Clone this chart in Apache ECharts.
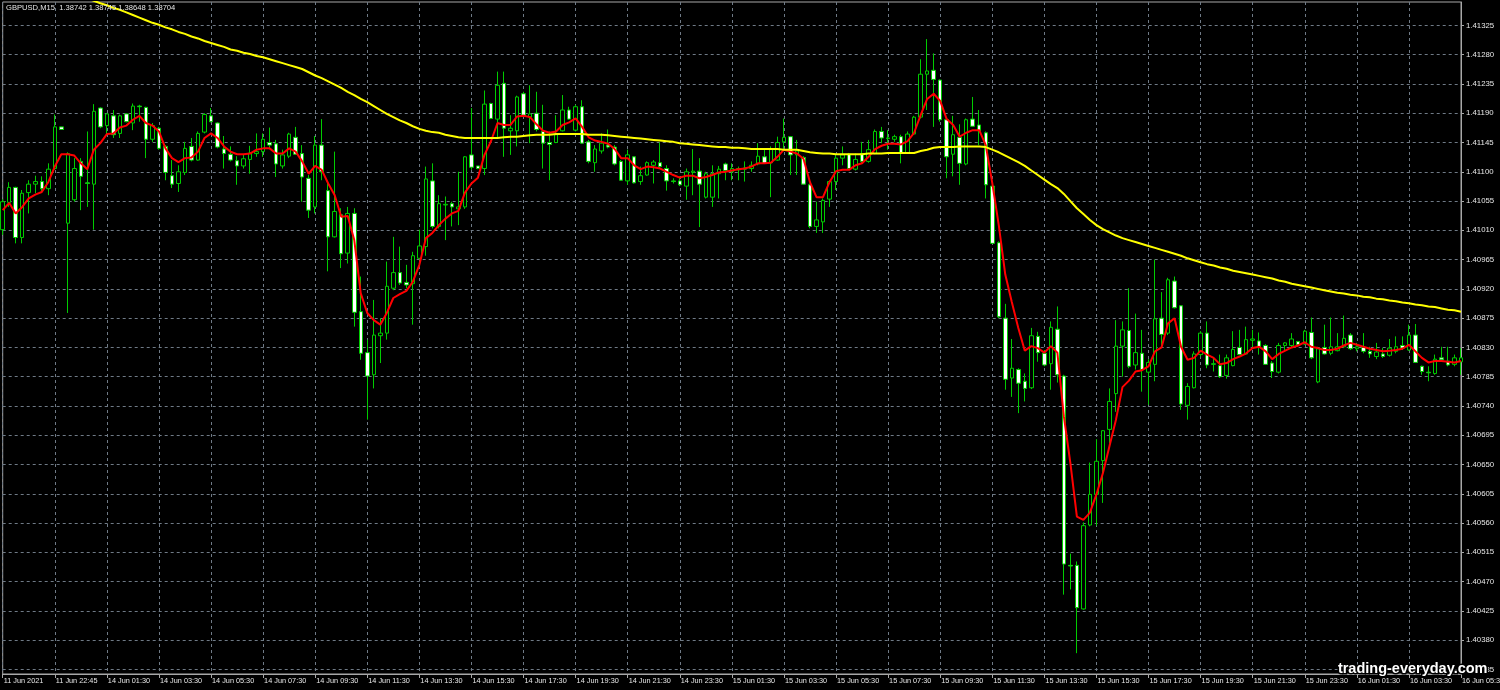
<!DOCTYPE html>
<html>
<head>
<meta charset="utf-8">
<script src="https://cdn.jsdelivr.net/npm/echarts@6/dist/echarts.min.js"></script>
<style>
html,body{margin:0;padding:0;background:#000;}
#chart{width:1500px;height:690px;}
</style>
</head>
<body>
<div id="chart"></div>
<script>
// GBPUSD M15 bars (open, high, low, close), one per 15 minutes
const opens = [1.41011,1.41053,1.41076,1.40999,1.41068,1.41081,1.41085,1.41074,1.41105,1.41169,1.41021,1.41057,1.41116,1.41083,1.41081,1.41198,1.41171,1.41186,1.41159,1.41189,1.41175,1.41201,1.41199,1.41150,1.41167,1.41139,1.41094,1.41082,1.41099,1.41139,1.41118,1.41161,1.41186,1.41175,1.41135,1.41127,1.41117,1.41109,1.41119,1.41128,1.41131,1.41145,1.41143,1.41109,1.41124,1.41153,1.41128,1.41090,1.41046,1.41141,1.41071,1.41000,1.41034,1.40975,1.41036,1.40885,1.40822,1.40788,1.40848,1.40852,1.40921,1.40945,1.40930,1.40928,1.40967,1.40985,1.41086,1.41016,1.41049,1.41051,1.41043,1.41046,1.41126,1.41109,1.41105,1.41205,1.41181,1.41236,1.41163,1.41163,1.41220,1.41184,1.41190,1.41162,1.41145,1.41145,1.41163,1.41195,1.41164,1.41200,1.41146,1.41114,1.41132,1.41141,1.41138,1.41116,1.41086,1.41123,1.41085,1.41095,1.41110,1.41114,1.41105,1.41086,1.41086,1.41078,1.41099,1.41101,1.41061,1.41061,1.41097,1.41112,1.41100,1.41103,1.41104,1.41105,1.41112,1.41123,1.41114,1.41118,1.41146,1.41154,1.41126,1.41122,1.41080,1.41016,1.41023,1.41058,1.41085,1.41121,1.41127,1.41104,1.41128,1.41116,1.41128,1.41162,1.41151,1.41150,1.41154,1.41129,1.41158,1.41184,1.41250,1.41256,1.41241,1.41180,1.41127,1.41153,1.41112,1.41181,1.41172,1.41160,1.41078,1.40991,1.40875,1.40783,1.40796,1.40778,1.40768,1.40847,1.40821,1.40805,1.40858,1.40786,1.40495,1.40495,1.40428,1.40557,1.40604,1.40656,1.40704,1.40759,1.40832,1.40856,1.40803,1.40821,1.40792,1.40804,1.40875,1.40852,1.40932,1.40894,1.40741,1.40768,1.40819,1.40852,1.40804,1.40802,1.40787,1.40802,1.40830,1.40820,1.40841,1.40840,1.40833,1.40806,1.40792,1.40833,1.40833,1.40839,1.40835,1.40853,1.40777,1.40830,1.40821,1.40825,1.40831,1.40849,1.40828,1.40830,1.40824,1.40816,1.40820,1.40818,1.40824,1.40833,1.40826,1.40849,1.40801,1.40792,1.40790,1.40814,1.40809,1.40804,1.40808];
const highs = [1.41058,1.41084,1.41077,1.41072,1.41087,1.41094,1.41093,1.41113,1.41188,1.41169,1.41130,1.41121,1.41121,1.41162,1.41204,1.41199,1.41190,1.41195,1.41188,1.41190,1.41205,1.41203,1.41200,1.41175,1.41169,1.41141,1.41118,1.41110,1.41146,1.41152,1.41162,1.41190,1.41198,1.41176,1.41155,1.41139,1.41124,1.41126,1.41140,1.41159,1.41159,1.41168,1.41149,1.41134,1.41160,1.41169,1.41141,1.41095,1.41155,1.41181,1.41085,1.41131,1.41044,1.41046,1.41044,1.40939,1.40842,1.40903,1.40875,1.40962,1.41000,1.40985,1.40957,1.40977,1.41011,1.41108,1.41113,1.41064,1.41062,1.41054,1.41100,1.41124,1.41198,1.41109,1.41225,1.41206,1.41254,1.41254,1.41187,1.41217,1.41223,1.41233,1.41223,1.41203,1.41162,1.41187,1.41218,1.41200,1.41203,1.41210,1.41149,1.41141,1.41159,1.41165,1.41141,1.41118,1.41134,1.41124,1.41108,1.41116,1.41118,1.41145,1.41110,1.41090,1.41093,1.41105,1.41135,1.41121,1.41100,1.41110,1.41109,1.41114,1.41113,1.41108,1.41116,1.41116,1.41144,1.41134,1.41139,1.41154,1.41182,1.41155,1.41149,1.41124,1.41082,1.41054,1.41059,1.41087,1.41127,1.41139,1.41129,1.41128,1.41146,1.41149,1.41165,1.41169,1.41164,1.41157,1.41157,1.41162,1.41186,1.41273,1.41304,1.41282,1.41242,1.41182,1.41186,1.41173,1.41182,1.41215,1.41195,1.41162,1.41080,1.40993,1.40897,1.40843,1.40798,1.40790,1.40860,1.40854,1.40826,1.40870,1.40893,1.40788,1.40513,1.40501,1.40561,1.40653,1.40689,1.40703,1.40767,1.40872,1.40870,1.40921,1.40882,1.40857,1.40812,1.40965,1.40915,1.40937,1.40939,1.40895,1.40775,1.40824,1.40855,1.40870,1.40814,1.40819,1.40819,1.40855,1.40857,1.40862,1.40857,1.40853,1.40835,1.40809,1.40837,1.40838,1.40852,1.40840,1.40857,1.40876,1.40831,1.40865,1.40876,1.40852,1.40879,1.40852,1.40837,1.40852,1.40831,1.40837,1.40829,1.40843,1.40847,1.40847,1.40865,1.40866,1.40802,1.40801,1.40819,1.40831,1.40831,1.40819,1.40829];
const lows = [1.41003,1.41046,1.40990,1.40990,1.41036,1.41067,1.41069,1.41064,1.41103,1.41165,1.40883,1.41054,1.41041,1.41046,1.41011,1.41167,1.41157,1.41152,1.41152,1.41176,1.41164,1.41177,1.41121,1.41146,1.41134,1.41087,1.41075,1.41069,1.41095,1.41116,1.41117,1.41159,1.41176,1.41136,1.41105,1.41116,1.41080,1.41105,1.41097,1.41123,1.41123,1.41136,1.41092,1.41105,1.41121,1.41126,1.41054,1.41029,1.41036,1.41087,1.40947,1.40999,1.40952,1.40959,1.40862,1.40811,1.40719,1.40767,1.40806,1.40842,1.40918,1.40926,1.40921,1.40865,1.40965,1.40971,1.41013,1.41013,1.40995,1.41016,1.41018,1.41043,1.41103,1.41104,1.41095,1.41181,1.41152,1.41123,1.41126,1.41139,1.41185,1.41144,1.41162,1.41105,1.41087,1.41144,1.41162,1.41180,1.41162,1.41143,1.41113,1.41100,1.41128,1.41136,1.41110,1.41086,1.41080,1.41082,1.41080,1.41094,1.41082,1.41105,1.41071,1.41082,1.41078,1.41057,1.41064,1.41015,1.41059,1.41046,1.41059,1.41087,1.41087,1.41087,1.41085,1.41100,1.41110,1.41112,1.41061,1.41117,1.41134,1.41095,1.41095,1.41080,1.41013,1.41006,1.41006,1.41046,1.41072,1.41110,1.41104,1.41102,1.41113,1.41114,1.41127,1.41144,1.41134,1.41146,1.41113,1.41128,1.41157,1.41182,1.41195,1.41169,1.41177,1.41090,1.41093,1.41080,1.41110,1.41169,1.41141,1.41059,1.40989,1.40875,1.40765,1.40754,1.40729,1.40747,1.40766,1.40808,1.40801,1.40765,1.40776,1.40450,1.40458,1.40360,1.40427,1.40555,1.40556,1.40591,1.40683,1.40731,1.40785,1.40798,1.40796,1.40762,1.40742,1.40778,1.40831,1.40849,1.40890,1.40734,1.40719,1.40767,1.40816,1.40798,1.40793,1.40783,1.40782,1.40801,1.40818,1.40819,1.40831,1.40819,1.40803,1.40783,1.40790,1.40826,1.40829,1.40831,1.40834,1.40812,1.40775,1.40819,1.40818,1.40824,1.40829,1.40826,1.40824,1.40821,1.40814,1.40812,1.40814,1.40816,1.40821,1.40826,1.40825,1.40806,1.40788,1.40778,1.40788,1.40809,1.40801,1.40801,1.40788];
const closes = [1.41054,1.41076,1.40999,1.41067,1.41081,1.41085,1.41074,1.41104,1.41169,1.41165,1.41128,1.41105,1.41093,1.41082,1.41193,1.41169,1.41189,1.41157,1.41186,1.41177,1.41201,1.41200,1.41150,1.41171,1.41136,1.41099,1.41081,1.41100,1.41136,1.41118,1.41159,1.41188,1.41177,1.41138,1.41128,1.41118,1.41109,1.41120,1.41129,1.41131,1.41150,1.41141,1.41112,1.41126,1.41158,1.41127,1.41092,1.41041,1.41141,1.41100,1.41000,1.41039,1.40974,1.41036,1.40884,1.40821,1.40786,1.40849,1.40852,1.40924,1.40945,1.40929,1.40926,1.40971,1.40986,1.41089,1.41016,1.41051,1.41050,1.41046,1.41046,1.41123,1.41107,1.41105,1.41204,1.41182,1.41233,1.41167,1.41167,1.41215,1.41187,1.41189,1.41165,1.41144,1.41142,1.41157,1.41195,1.41181,1.41200,1.41144,1.41116,1.41135,1.41144,1.41138,1.41112,1.41087,1.41126,1.41083,1.41094,1.41114,1.41115,1.41108,1.41086,1.41085,1.41080,1.41100,1.41101,1.41081,1.41097,1.41097,1.41104,1.41102,1.41105,1.41105,1.41106,1.41110,1.41124,1.41113,1.41135,1.41145,1.41153,1.41126,1.41132,1.41081,1.41016,1.41026,1.41056,1.41085,1.41121,1.41126,1.41105,1.41119,1.41116,1.41134,1.41162,1.41152,1.41152,1.41154,1.41129,1.41158,1.41184,1.41250,1.41255,1.41242,1.41180,1.41123,1.41157,1.41113,1.41180,1.41170,1.41163,1.41080,1.40990,1.40877,1.40781,1.40798,1.40775,1.40767,1.40848,1.40822,1.40803,1.40861,1.40788,1.40497,1.40494,1.40430,1.40556,1.40604,1.40655,1.40702,1.40747,1.40832,1.40857,1.40801,1.40822,1.40796,1.40807,1.40874,1.40850,1.40934,1.40891,1.40743,1.40770,1.40820,1.40852,1.40803,1.40805,1.40785,1.40814,1.40827,1.40819,1.40842,1.40843,1.40831,1.40804,1.40793,1.40833,1.40837,1.40843,1.40834,1.40855,1.40814,1.40828,1.40820,1.40831,1.40831,1.40844,1.40828,1.40831,1.40824,1.40820,1.40823,1.40816,1.40829,1.40831,1.40829,1.40849,1.40807,1.40793,1.40791,1.40812,1.40811,1.40803,1.40814,1.40814];
// Fast moving average (red)
const fastMA = [1.41041,1.41052,1.41036,1.41046,1.41059,1.41065,1.41069,1.41084,1.41108,1.41127,1.41127,1.41125,1.41113,1.41104,1.41134,1.41144,1.41158,1.41159,1.41168,1.41171,1.41180,1.41186,1.41175,1.41171,1.41162,1.41136,1.41121,1.41115,1.41121,1.41122,1.41131,1.41152,1.41159,1.41152,1.41139,1.41131,1.41127,1.41127,1.41128,1.41134,1.41136,1.41136,1.41128,1.41128,1.41136,1.41131,1.41116,1.41097,1.41109,1.41103,1.41082,1.41064,1.41031,1.41032,1.40995,1.40913,1.40883,1.40872,1.40865,1.40883,1.40906,1.40912,1.40917,1.40931,1.40957,1.40998,1.41006,1.41018,1.41028,1.41036,1.41040,1.41068,1.41082,1.41091,1.41126,1.41147,1.41175,1.41172,1.41172,1.41185,1.41186,1.41184,1.41173,1.41163,1.41160,1.41162,1.41172,1.41176,1.41182,1.41169,1.41153,1.41148,1.41146,1.41143,1.41135,1.41121,1.41121,1.41110,1.41104,1.41108,1.41107,1.41105,1.41100,1.41095,1.41091,1.41094,1.41094,1.41090,1.41092,1.41095,1.41099,1.41100,1.41102,1.41104,1.41105,1.41108,1.41113,1.41113,1.41114,1.41123,1.41134,1.41131,1.41128,1.41120,1.41084,1.41061,1.41061,1.41084,1.41101,1.41103,1.41103,1.41110,1.41113,1.41123,1.41135,1.41140,1.41143,1.41143,1.41142,1.41147,1.41160,1.41187,1.41212,1.41220,1.41209,1.41181,1.41172,1.41154,1.41160,1.41164,1.41164,1.41141,1.41083,1.41018,1.40942,1.40900,1.40860,1.40825,1.40832,1.40829,1.40822,1.40832,1.40822,1.40724,1.40652,1.40570,1.40565,1.40576,1.40604,1.40637,1.40678,1.40719,1.40769,1.40779,1.40793,1.40795,1.40801,1.40824,1.40830,1.40867,1.40875,1.40831,1.40811,1.40814,1.40825,1.40819,1.40814,1.40804,1.40806,1.40812,1.40816,1.40821,1.40829,1.40831,1.40824,1.40812,1.40820,1.40825,1.40830,1.40833,1.40838,1.40831,1.40829,1.40826,1.40826,1.40828,1.40833,1.40837,1.40834,1.40831,1.40828,1.40826,1.40824,1.40825,1.40826,1.40828,1.40834,1.40824,1.40814,1.40807,1.40809,1.40809,1.40808,1.40807,1.40809];
// Slow moving average (yellow)
const slowMA = [1.41413,1.41410,1.41406,1.41402,1.41399,1.41395,1.41391,1.41388,1.41384,1.41381,1.41377,1.41374,1.41370,1.41366,1.41363,1.41359,1.41356,1.41352,1.41349,1.41345,1.41341,1.41337,1.41333,1.41329,1.41326,1.41322,1.41319,1.41315,1.41312,1.41308,1.41305,1.41301,1.41298,1.41295,1.41292,1.41288,1.41286,1.41283,1.41281,1.41278,1.41276,1.41273,1.41270,1.41267,1.41264,1.41261,1.41258,1.41253,1.41248,1.41244,1.41239,1.41234,1.41229,1.41223,1.41218,1.41212,1.41207,1.41201,1.41195,1.41189,1.41184,1.41179,1.41175,1.41170,1.41166,1.41163,1.41161,1.41160,1.41157,1.41155,1.41153,1.41152,1.41152,1.41152,1.41152,1.41152,1.41152,1.41153,1.41154,1.41154,1.41155,1.41156,1.41157,1.41157,1.41157,1.41158,1.41158,1.41158,1.41158,1.41158,1.41157,1.41157,1.41157,1.41156,1.41155,1.41154,1.41153,1.41152,1.41151,1.41150,1.41149,1.41148,1.41147,1.41146,1.41144,1.41143,1.41142,1.41141,1.41140,1.41139,1.41138,1.41138,1.41137,1.41137,1.41136,1.41135,1.41135,1.41135,1.41135,1.41135,1.41134,1.41134,1.41134,1.41132,1.41130,1.41129,1.41128,1.41128,1.41127,1.41127,1.41127,1.41127,1.41127,1.41128,1.41128,1.41128,1.41129,1.41129,1.41129,1.41129,1.41129,1.41132,1.41134,1.41137,1.41138,1.41138,1.41138,1.41139,1.41139,1.41139,1.41139,1.41138,1.41134,1.41130,1.41125,1.41120,1.41115,1.41109,1.41102,1.41095,1.41088,1.41081,1.41075,1.41066,1.41055,1.41044,1.41035,1.41026,1.41018,1.41012,1.41007,1.41002,1.40998,1.40995,1.40992,1.40989,1.40986,1.40983,1.40980,1.40977,1.40974,1.40971,1.40967,1.40964,1.40961,1.40958,1.40956,1.40953,1.40951,1.40948,1.40946,1.40944,1.40942,1.40940,1.40938,1.40936,1.40933,1.40931,1.40928,1.40926,1.40924,1.40922,1.40920,1.40918,1.40916,1.40914,1.40913,1.40911,1.40910,1.40908,1.40907,1.40905,1.40904,1.40902,1.40901,1.40899,1.40898,1.40896,1.40895,1.40893,1.40892,1.40890,1.40888,1.40887,1.40885];
// Price scale labels
const priceTicks = [1.40335,1.40380,1.40425,1.40470,1.40515,1.40560,1.40605,1.40650,1.40695,1.40740,1.40785,1.40830,1.40875,1.40920,1.40965,1.41010,1.41055,1.41100,1.41145,1.41190,1.41235,1.41280,1.41325];
// Time scale labels (one every 8 bars)
const timeLabels = ['11 Jun 2021','11 Jun 22:45','14 Jun 01:30','14 Jun 03:30','14 Jun 05:30','14 Jun 07:30','14 Jun 09:30','14 Jun 11:30','14 Jun 13:30','14 Jun 15:30','14 Jun 17:30','14 Jun 19:30','14 Jun 21:30','14 Jun 23:30','15 Jun 01:30','15 Jun 03:30','15 Jun 05:30','15 Jun 07:30','15 Jun 09:30','15 Jun 11:30','15 Jun 13:30','15 Jun 15:30','15 Jun 17:30','15 Jun 19:30','15 Jun 21:30','15 Jun 23:30','16 Jun 01:30','16 Jun 03:30','16 Jun 05:30'];
const headerText = 'GBPUSD,M15  1.38742 1.38745 1.38648 1.38704';
const watermark = 'trading-everyday.com';

const LABEL_STEP = 8;
const categories = opens.map((_, i) => String(i));
const candleData = opens.map((o, i) => [o, closes[i], lows[i], highs[i]]);
const uiFont = '"Liberation Sans", Arial, sans-serif';
const gridColor = '#6f7a86';
const frameColor = '#a8a8a8';
const textColor = '#e6e6e6';

const chart = echarts.init(document.getElementById('chart'), null, {renderer: 'canvas'});
chart.setOption({
  animation: false,
  backgroundColor: '#000000',
  grid: {left: 2.7, right: 39, top: 2, bottom: 16, show: true, borderColor: frameColor, borderWidth: 1, backgroundColor: 'transparent', outerBoundsMode: 'none', containLabel: false},
  xAxis: {
    type: 'category',
    data: categories,
    boundaryGap: false,
    axisLine: {show: true, lineStyle: {color: frameColor, width: 1}},
    axisTick: {show: true, length: 4, interval: (i) => i % LABEL_STEP === 0, lineStyle: {color: frameColor}},
    axisLabel: {
      show: true,
      interval: (i) => i % LABEL_STEP === 0,
      formatter: (v, i) => (i % LABEL_STEP === 0 ? (timeLabels[i / LABEL_STEP] || '') : ''),
      align: 'left',
      margin: 3,
      color: textColor,
      fontFamily: uiFont,
      fontSize: 7.3,
      padding: [0, 0, 0, 1]
    },
    splitLine: {show: true, interval: (i) => i % LABEL_STEP === 0, lineStyle: {color: gridColor, type: [3, 3], width: 1}}
  },
  yAxis: {
    type: 'value',
    position: 'right',
    min: 1.40328,
    max: 1.41361,
    scale: true,
    axisLine: {show: true, lineStyle: {color: frameColor, width: 1}},
    axisTick: {show: true, length: 3, customValues: priceTicks, lineStyle: {color: frameColor}},
    axisLabel: {
      show: true,
      customValues: priceTicks,
      formatter: (v) => v.toFixed(5),
      margin: 5,
      color: textColor,
      fontFamily: uiFont,
      fontSize: 7.8
    },
    splitLine: {show: true, lineStyle: {color: gridColor, type: [3, 3], width: 1}}
  },
  series: [
    {
      type: 'candlestick',
      data: candleData,
      barWidth: 4,
      clip: true,
      itemStyle: {color: '#000000', color0: '#ffffff', borderColor: '#00cc00', borderColor0: '#00cc00', borderWidth: 1}
    },
    {
      type: 'line',
      data: fastMA,
      symbol: 'none',
      clip: true,
      lineStyle: {color: '#ff0000', width: 2},
      z: 3
    },
    {
      type: 'line',
      data: slowMA,
      symbol: 'none',
      clip: true,
      lineStyle: {color: '#ffff00', width: 2},
      z: 4
    }
  ],
  graphic: [
    {type: 'text', left: 6, top: 4, z: 100, style: {text: headerText, fill: textColor, font: '7.6px ' + uiFont}},
    {type: 'text', right: 11, bottom: 12, z: 100, style: {text: watermark, fill: '#ffffff', stroke: '#000000', lineWidth: 3, font: 'bold 14.5px "Liberation Sans", Arial, sans-serif'}}
  ]
});
</script>
</body>
</html>
